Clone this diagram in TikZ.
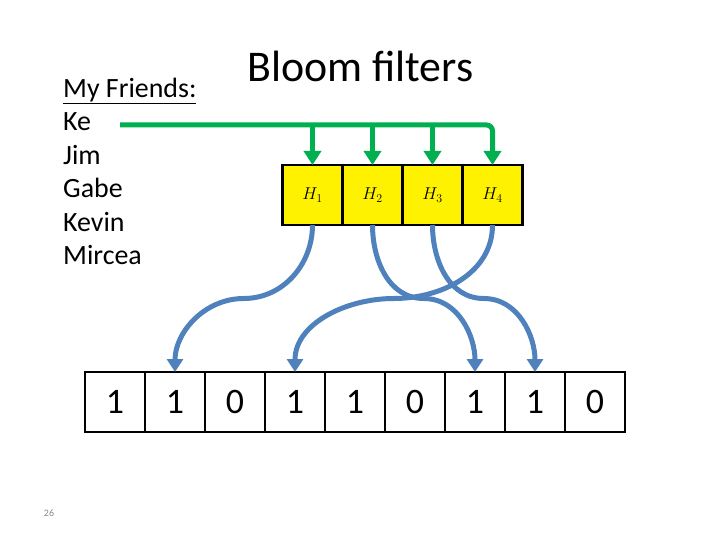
\documentclass[tikz,border=0pt]{standalone}
\usepackage{fontspec}
\setmainfont{Carlito}
\usepackage{tikz}
\usetikzlibrary{arrows.meta, positioning, calc}
\definecolor{friendgreen}{RGB}{0,176,80}
\definecolor{hashblue}{RGB}{79,129,189}
\definecolor{pagegray}{RGB}{137,137,137}

\begin{document}
\begin{tikzpicture}[x=1bp, y=-1bp,
  hbox/.style={draw, line width=2.5bp, fill=yellow, minimum size=60bp, inner sep=0pt, outer sep=0pt, font=\fontsize{17}{20}\selectfont},
  bit/.style={draw, line width=2.5bp, minimum size=60bp, inner sep=0pt, outer sep=0pt, font=\fontsize{36}{40}\selectfont},
  feed/.style={draw=friendgreen, line width=5bp, -{Triangle[length=14bp,width=17bp]}},
  hash/.style={draw=hashblue, line width=5bp, -{Triangle[length=13bp,width=16bp]}}]
\useasboundingbox (0,0) rectangle (720,540);
\node[anchor=base, font=\fontsize{44}{50}\selectfont] at (360.5,82) (Title) {Bloom filters};
\node[anchor=north west, align=left, font=\fontsize{28}{33.5}\selectfont, inner sep=0pt] at (63,78) (Friends) {\underline{My Friends:}\\Ke\\Jim\\Gabe\\Kevin\\Mircea};
\node[pagegray, font=\fontsize{10}{12}\selectfont] at (49,513) (Page) {26};
% hash functions
\node[hbox] at (312.5,195) (H1) {$H_1$};
\node[hbox, right=0pt of H1] (H2) {$H_2$};
\node[hbox, right=0pt of H2] (H3) {$H_3$};
\node[hbox, right=0pt of H3] (H4) {$H_4$};
% bit array
\node[bit] at (115,402) (B1) {1};
\node[bit, right=0pt of B1] (B2) {1};
\node[bit, right=0pt of B2] (B3) {0};
\node[bit, right=0pt of B3] (B4) {1};
\node[bit, right=0pt of B4] (B5) {1};
\node[bit, right=0pt of B5] (B6) {0};
\node[bit, right=0pt of B6] (B7) {1};
\node[bit, right=0pt of B7] (B8) {1};
\node[bit, right=0pt of B8] (B9) {0};
% feed the names into every hash
\coordinate (Feed) at (120,125);
\draw[feed, rounded corners=6bp] (Feed) -| (H4.north);
\draw[feed] (H1.north |- Feed) -- (H1.north);
\draw[feed] (H2.north |- Feed) -- (H2.north);
\draw[feed] (H3.north |- Feed) -- (H3.north);
% hashes set bits
\draw[hash] (H1.south) to[out=-90, in=0] ($(H1.south)!0.5!(B2.north)$) to[out=180, in=90] (B2.north);
\draw[hash] (H2.south) to[out=-90, in=180] ($(H2.south)!0.5!(B7.north)$) to[out=0, in=90] (B7.north);
\draw[hash] (H3.south) to[out=-90, in=180] ($(H3.south)!0.5!(B8.north)$) to[out=0, in=90] (B8.north);
\draw[hash] (H4.south) to[out=-90, in=0] ($(H4.south)!0.5!(B4.north)$) to[out=180, in=90] (B4.north);
\end{tikzpicture}
\end{document}
